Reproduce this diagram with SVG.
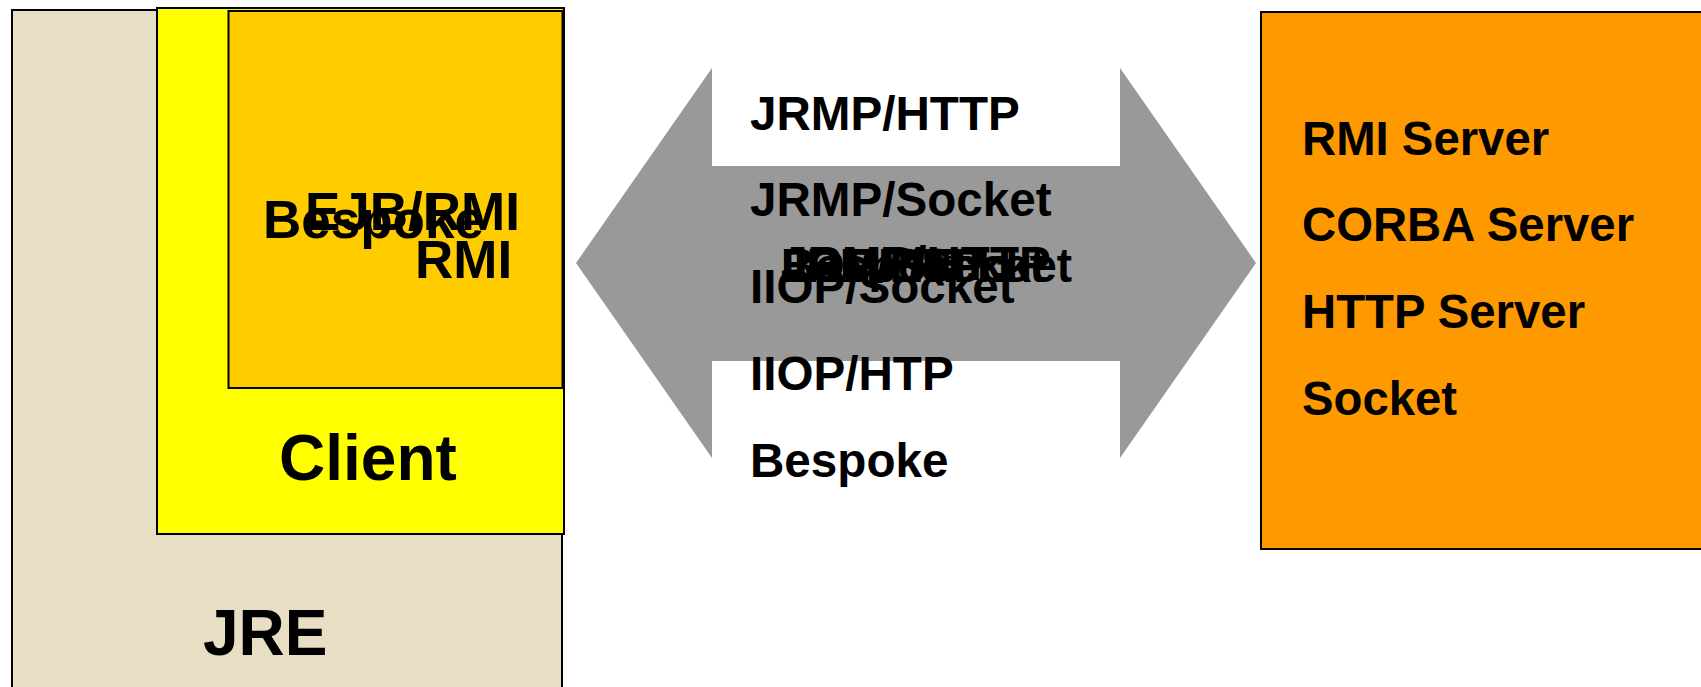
<svg xmlns="http://www.w3.org/2000/svg" width="1701" height="687" viewBox="0 0 1701 687">
  <style>
    .box { stroke: #000000; stroke-width: 2; }
    .lbl { font-family: "Liberation Sans", Arial, sans-serif; font-weight: bold; fill: #000000; }
    .inner { font-size: 53px; }
    .big { font-size: 64px; }
    .proto { font-size: 47.6px; }
    .srv { font-size: 47.3px; }
  </style>
  <rect width="1701" height="687" fill="#ffffff"/>

  <!-- Java runtime environment -->
  <g id="jre">
    <rect class="box" x="12" y="10" width="550" height="700" fill="#E8DEC4"/>
    <text class="lbl big" x="203" y="655">JRE</text>
  </g>

  <!-- Client application -->
  <g id="client">
    <rect class="box" x="157" y="8" width="407" height="526" fill="#FFFF00"/>
    <text class="lbl big" x="279" y="480">Client</text>
  </g>

  <!-- Client-side stubs / libraries -->
  <g id="client-stubs">
    <rect class="box" x="228.5" y="11" width="334" height="377" fill="#FFCC00"/>
    <text class="lbl inner" x="305" y="230">EJB/RMI</text>
    <text class="lbl inner" x="263" y="238">Bespoke</text>
    <text class="lbl inner" x="415" y="278">RMI</text>
  </g>

  <!-- Two-way transport between client and server -->
  <g id="connectors">
    <polygon fill="#999999" points="576,263 712,68 712,166 1120,166 1120,68 1256,263 1120,458 1120,361 712,361 712,458"/>
  </g>

  <!-- Protocol list -->
  <g id="protocols">
    <text class="lbl proto" x="750" y="130">JRMP/HTTP</text>
    <text class="lbl proto" x="750" y="216">JRMP/Socket</text>
    <text class="lbl proto" x="750" y="303">IIOP/Socket</text>
    <text class="lbl proto" x="750" y="390">IIOP/HTP</text>
    <text class="lbl proto" x="750" y="477">Bespoke</text>
  </g>

  <!-- Protocol labels stacked on one spot -->
  <g id="protocols-stacked">
    <text class="lbl proto" x="781" y="280">JRMP/HTTP</text>
    <text class="lbl proto" x="781" y="282" textLength="291" lengthAdjust="spacingAndGlyphs">JRMP/Socket</text>
    <text class="lbl proto" x="781" y="282">IIOP/Socket</text>
    <text class="lbl proto" x="781" y="282">IIOP/HTP</text>
    <text class="lbl proto" x="781" y="282">Bespoke</text>
  </g>

  <!-- Server side -->
  <g id="server">
    <rect class="box" x="1261" y="12" width="460" height="537" fill="#FF9900"/>
    <text class="lbl srv" x="1302" y="155">RMI Server</text>
    <text class="lbl srv" x="1302" y="241">CORBA Server</text>
    <text class="lbl srv" x="1302" y="328">HTTP Server</text>
    <text class="lbl srv" x="1302" y="415">Socket</text>
  </g>
</svg>
